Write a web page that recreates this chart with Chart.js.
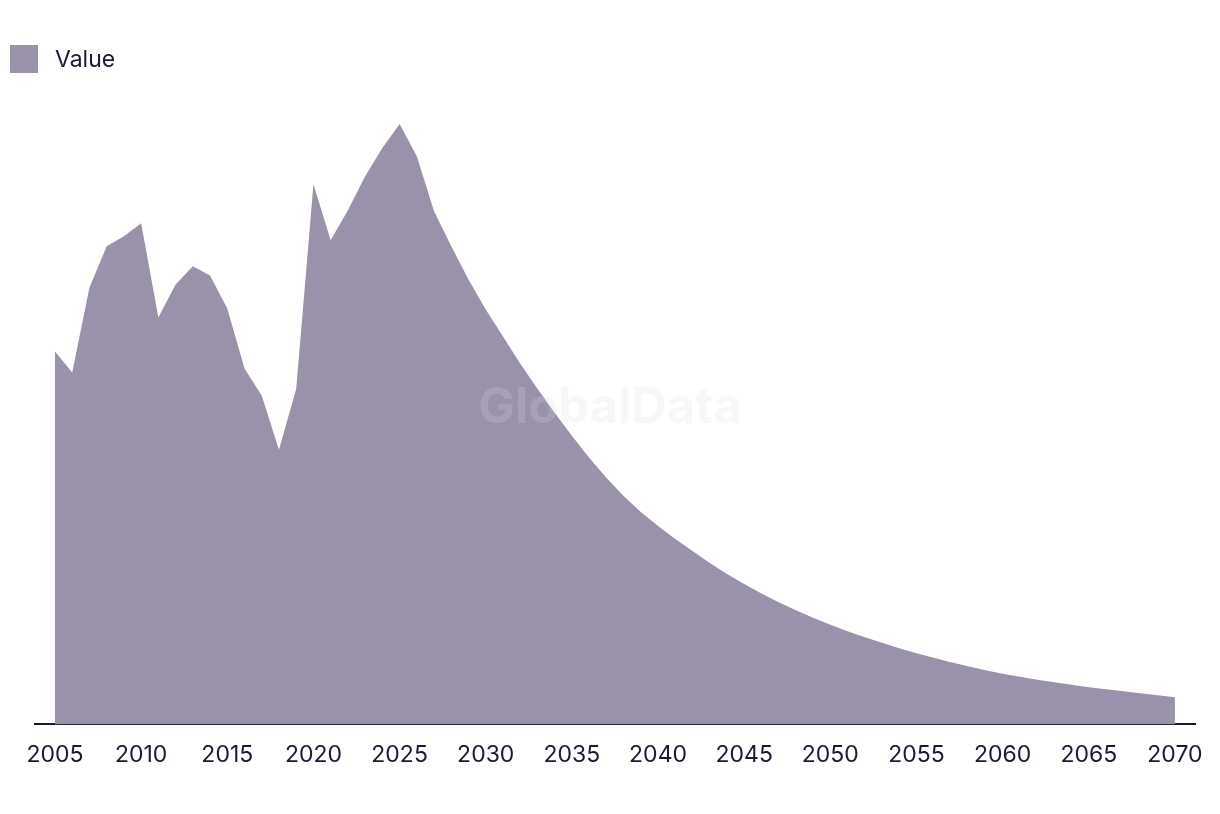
<!DOCTYPE html>
<html>
<head>
<meta charset="UTF-8">
<title>Value</title>
<script src="https://cdn.jsdelivr.net/npm/chart.js@4"></script>
<style>
    body { margin: 0; background: #ffffff; }
    #wrap { position: relative; width: 1220px; height: 814px; }
    #legend { position: absolute; left: 10px; top: 45px; display: flex; align-items: center;
              font-family: Inter, "Liberation Sans", sans-serif; font-size: 23px; color: #1c1a33; }
    #legend span.box { width: 28px; height: 28px; background: #9a91aa; margin-right: 17px; }
    canvas { display: block; }
</style>
</head>
<body>
<div id="wrap">
    <canvas id="chart" width="1220" height="814"></canvas>
    <div id="legend"><span class="box"></span><span>Value</span></div>
</div>
<script>
// years on the x axis
const years = [];
for (let y = 2005; y <= 2070; y++) years.push(y);

// series values (arbitrary units)
const values = [
    372, 351, 436, 477, 487, 500, 406, 439, 457, 448,   // 2005-2014
    415, 355, 328, 274, 335, 539, 483, 513, 547, 575,   // 2015-2024
    599, 567, 512, 477, 444, 414, 387, 360, 335, 311,   // 2025-2034
    288, 266, 246, 228, 212, 198, 185, 173, 161, 150,   // 2035-2044
    140, 130.5, 122, 114, 106.5, 99.5, 93, 87, 81.5, 76, // 2045-2054
    71, 66.5, 62, 58, 54, 50.5, 47.5, 44.5, 42, 39.5,   // 2055-2064
    37, 35, 33, 31, 29, 27                               // 2065-2070
];

const tickYears = [2005, 2010, 2015, 2020, 2025, 2030, 2035, 2040, 2045, 2050, 2055, 2060, 2065, 2070];

const watermark = {
    id: 'watermark',
    afterDatasetsDraw(chart) {
        const ctx = chart.ctx;
        ctx.save();
        ctx.font = 'bold 49px Inter, "Liberation Sans", sans-serif';
        ctx.fillStyle = 'rgba(220, 220, 226, 0.22)';
        ctx.textAlign = 'center';
        ctx.textBaseline = 'middle';
        ctx.fillText('GlobalData', 610, 408);
        ctx.restore();
    }
};

const ctx = document.getElementById('chart').getContext('2d');
new Chart(ctx, {
    type: 'line',
    data: {
        datasets: [{
            label: 'Value',
            data: years.map((y, i) => ({ x: y, y: values[i] })),
            fill: 'origin',
            backgroundColor: '#9a91aa',
            borderWidth: 0,
            pointRadius: 0,
            tension: 0
        }]
    },
    options: {
        responsive: false,
        animation: false,
        layout: { padding: { top: 100, left: 35, right: 23, bottom: 28 } },
        plugins: {
            legend: { display: false },
            tooltip: { enabled: false }
        },
        scales: {
            x: {
                type: 'linear',
                min: 2003.84,
                max: 2071.22,
                grid: { display: false, drawTicks: false },
                border: { display: true, color: '#1c1a33', width: 2 },
                afterBuildTicks: (axis) => {
                    axis.ticks = tickYears.map(v => ({ value: v }));
                },
                ticks: {
                    autoSkip: false,
                    maxRotation: 0,
                    padding: 17,
                    color: '#1c1a33',
                    font: { family: 'Inter, "Liberation Sans", sans-serif', size: 23 },
                    callback: (v) => String(v)
                }
            },
            y: {
                display: false,
                min: 0,
                max: 623
            }
        }
    },
    plugins: [watermark]
});
</script>
</body>
</html>
